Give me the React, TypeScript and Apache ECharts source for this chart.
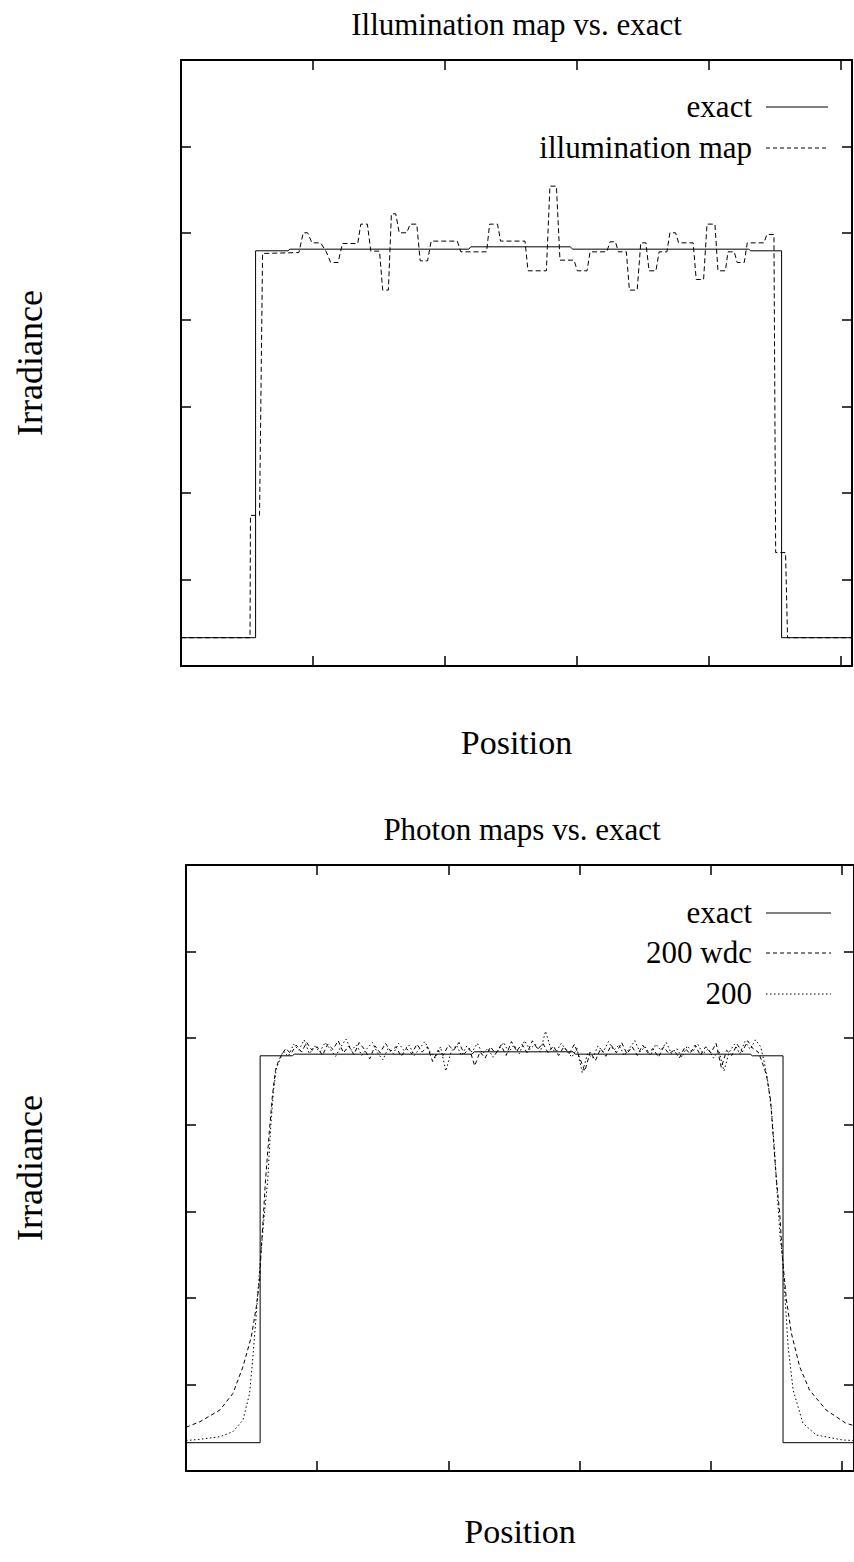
import React, { useEffect, useRef } from "react";
import * as echarts from "echarts";

// ---------- data (x: position units, tick every 100; y: irradiance units, tick every 1) ----------
const exactX = [0, 56.5, 56.5, 81, 82.6, 218, 219.6, 295, 296.6, 430, 431.6, 455, 455, 510];
const exactY = [0.327, 0.327, 4.796, 4.796, 4.815, 4.815, 4.842, 4.842, 4.815, 4.815, 4.796, 4.796, 0.327, 0.327];

const illumX = [0, 52.3, 52.6, 59.5, 61.8,
  89.3, 92.6, 95.9, 99.2, 105.8, 110.1, 113.4, 119.0, 122.3, 133.9,
  136.2, 141.2, 143.8, 150.4, 152.8, 157.1, 159.4, 162.7, 165.3, 171.0,
  173.6, 178.6, 181.2, 186.8, 189.5, 209.3, 212.0, 231.5, 233.8, 239.8,
  242.1, 260.6, 262.9, 276.8, 279.5, 284.4, 287.1, 297.7, 300.3, 307.6,
  309.9, 322.5, 325.1, 329.1, 331.4, 337.4, 339.7, 345.6, 348.3, 352.2,
  354.6, 359.8, 362.2, 368.1, 370.4, 374.7, 377.0, 388.0, 390.3, 395.9,
  398.5, 404.5, 406.8, 412.4, 414.4, 419.1, 421.4, 426.7, 429.0, 441.6,
  443.9, 449.2,
  450.5, 458.0, 459.5, 510];
const illumY = [0.327, 0.327, 1.74, 1.74, 4.765,
  4.776, 5.004, 5.004, 4.888, 4.888, 4.784, 4.661, 4.661, 4.880, 4.880,
  5.104, 5.104, 4.792, 4.792, 4.342, 4.342, 5.223, 5.223, 5.004, 5.004,
  5.104, 5.104, 4.680, 4.680, 4.908, 4.908, 4.784, 4.784, 5.104, 5.104,
  4.908, 4.908, 4.565, 4.565, 5.543, 5.543, 4.688, 4.688, 4.565, 4.565,
  4.784, 4.784, 4.900, 4.900, 4.784, 4.784, 4.342, 4.342, 4.888, 4.888,
  4.565, 4.565, 4.784, 4.784, 5.004, 5.004, 4.888, 4.888, 4.465, 4.465,
  5.104, 5.104, 4.565, 4.565, 4.784, 4.784, 4.661, 4.661, 4.888, 4.888,
  4.985, 4.985,
  1.31, 1.31, 0.327, 0.327];

// 200 wdc : left tail, plateau samples, right tail
const wdcLeftX = [0, 10.6, 25.8, 35.8, 43.4, 49.8, 53.6, 56.1, 57.3, 59.1, 60.6, 63.6, 65.9, 68.2, 71.2];
const wdcLeftY = [0.505, 0.569, 0.704, 0.897, 1.204, 1.551, 1.897, 2.206, 2.552, 2.979, 3.360, 3.938, 4.342, 4.630, 4.769];
const wdcStart = 72;
const wdcStep = 4;
const wdcPlateau = [
  4.78, 4.88, 4.82, 4.92, 4.84, 4.95, 4.86, 4.90, 4.80, 4.93,
  4.87, 4.97, 4.83, 4.91, 4.81, 4.95, 4.87, 4.76, 4.91, 4.83,
  4.94, 4.85, 4.90, 4.79, 4.88, 4.82, 4.93, 4.84, 4.90, 4.73,
  4.86, 4.80, 4.92, 4.86, 4.95, 4.82, 4.88, 4.68, 4.84, 4.77,
  4.90, 4.82, 4.92, 4.80, 4.96, 4.85, 4.93, 4.83, 4.97, 4.87,
  4.94, 4.83, 4.91, 4.80, 4.90, 4.82, 4.93, 4.77, 4.62, 4.84,
  4.74, 4.88, 4.79, 4.92, 4.83, 4.95, 4.82, 4.90, 4.80, 4.92,
  4.83, 4.88, 4.78, 4.90, 4.82, 4.86, 4.77, 4.89, 4.82, 4.92,
  4.80, 4.90, 4.83, 4.94, 4.66, 4.86, 4.80, 4.93, 4.84, 4.97,
  4.88, 4.84];
const wdcRightX = [438.6, 442.4, 445.5, 447.7, 450.0, 452.5, 454.5, 457.6, 461.4, 467.7, 475.2, 487.9, 503.0, 510];
const wdcRightY = [4.746, 4.573, 4.284, 3.822, 3.360, 2.976, 2.475, 1.975, 1.590, 1.204, 0.935, 0.704, 0.551, 0.52];

// 200
const pmLeftX = [0, 10.6, 25.8, 35.8, 43.4, 48.5, 51.0, 53.6, 55.5, 57.3, 59.8, 62.3, 64.4, 66.7, 68.9, 72.0];
const pmLeftY = [0.352, 0.366, 0.396, 0.454, 0.589, 0.897, 1.320, 1.821, 2.206, 2.552, 2.979, 3.360, 3.938, 4.400, 4.654, 4.769];
const pmStart = 74;
const pmStep = 4;
const pmPlateau = [
  4.85, 4.79, 4.93, 4.86, 4.98, 4.82, 4.91, 4.84, 4.95, 4.87,
  4.79, 4.90, 4.99, 4.86, 4.92, 4.80, 4.88, 4.95, 4.83, 4.75,
  4.88, 4.82, 4.94, 4.86, 4.92, 4.80, 4.88, 4.96, 4.84, 4.77,
  4.90, 4.62, 4.84, 4.92, 4.80, 4.91, 4.84, 4.94, 4.82, 4.88,
  4.78, 4.86, 4.95, 4.84, 4.92, 4.82, 4.97, 4.87, 4.93, 4.84,
  5.08, 4.88, 4.84, 4.94, 4.86, 4.78, 4.88, 4.60, 4.82, 4.77,
  4.91, 4.84, 4.96, 4.86, 4.92, 4.80, 4.88, 4.97, 4.84, 4.90,
  4.80, 4.93, 4.86, 4.95, 4.82, 4.88, 4.78, 4.91, 4.84, 4.93,
  4.82, 4.88, 4.77, 4.86, 4.62, 4.84, 4.93, 4.82, 4.96, 4.87,
  4.98, 4.90];
const pmRightX = [441.0, 443.6, 446.2, 448.5, 450.4, 452.7, 454.5, 456.3, 458.9, 462.7, 470.2, 480.3, 500.5, 510];
const pmRightY = [4.70, 4.48, 4.169, 3.707, 3.245, 2.725, 2.475, 2.055, 1.435, 0.935, 0.551, 0.416, 0.358, 0.352];

const titles = ["Illumination map vs. exact", "Photon maps vs. exact"];
const legend1 = ["exact", "illumination map"];
const legend2 = ["exact", "200 wdc", "200"];
const xName = "Position";
const yName = "Irradiance";

// ---------- helpers ----------
const zip = (xs: number[], ys: number[]) => {
  const n = Math.min(xs.length, ys.length);
  const out: number[][] = [];
  for (let i = 0; i < n; i++) out.push([xs[i], ys[i]]);
  return out;
};
const sampled = (start: number, step: number, ys: number[]) => ys.map((y, i) => [start + i * step, y]);

const FONT = "'Liberation Serif', 'Times New Roman', serif";
const FS = 31;

export default function App() {
  const ref = useRef<HTMLDivElement>(null);

  useEffect(() => {
    if (!ref.current) return;
    const chart = echarts.init(ref.current, undefined, { renderer: "svg" });

    const G1 = { left: 181, top: 60, width: 671, height: 606 };
    const G2 = { left: 186, top: 865, width: 672, height: 606 };
    const xMax1 = 671 / 1.32;
    const xMax2 = 672 / 1.32;

    const lineW = 2;
    const tick = { show: true, inside: true, length: 10, lineStyle: { color: "#000", width: 1.5 } };

    const xAx = (gridIndex: number, max: number, pos: string, gap: number | null) => ({
      type: "value",
      gridIndex,
      position: pos,
      min: 0,
      max,
      interval: 100,
      axisLine: { show: true, onZero: false, lineStyle: { color: "#000", width: lineW } },
      axisTick: tick,
      axisLabel: { show: false },
      splitLine: { show: false },
      name: gap !== null ? xName : "",
      nameLocation: "middle",
      nameGap: gap ?? 0,
      nameTextStyle: { fontSize: 34, fontFamily: FONT, color: "#000" },
    });
    const yAx = (gridIndex: number, pos: string, gap: number | null) => ({
      type: "value",
      gridIndex,
      position: pos,
      min: 0,
      max: 7,
      interval: 1,
      axisLine: { show: true, onZero: false, lineStyle: { color: "#000", width: lineW } },
      axisTick: tick,
      axisLabel: { show: false },
      splitLine: { show: false },
      name: gap !== null ? yName : "",
      nameLocation: "middle",
      nameRotate: 90,
      nameGap: gap ?? 0,
      nameTextStyle: { fontSize: 36, fontFamily: FONT, color: "#000" },
    });

    const line = (name: string, data: number[][], xi: number, yi: number, dash: any) => ({
      name,
      type: "line",
      xAxisIndex: xi,
      yAxisIndex: yi,
      data,
      showSymbol: false,
      symbol: "none",
      clip: true,
      lineStyle: { color: "#000", width: 1, type: dash },
      itemStyle: { color: "#000" },
    });

    const wdcData = [...zip(wdcLeftX, wdcLeftY), ...sampled(wdcStart, wdcStep, wdcPlateau), ...zip(wdcRightX, wdcRightY)];
    const pmData = [...zip(pmLeftX, pmLeftY), ...sampled(pmStart, pmStep, pmPlateau), ...zip(pmRightX, pmRightY)];

    const legendItem = (label: string, y: number, dash: number[] | null, x2: number) => [
      {
        type: "text",
        x: 752,
        y,
        style: {
          text: label,
          fill: "#000",
          fontSize: FS,
          fontFamily: FONT,
          align: "right",
          textAlign: "right",
          verticalAlign: "middle",
          textVerticalAlign: "middle",
        },
      },
      {
        type: "line",
        shape: { x1: 766, y1: y + 1, x2, y2: y + 1 },
        style: { stroke: "#000", lineWidth: 1, lineDash: dash || undefined },
      },
    ];

    chart.setOption({
      animation: false,
      backgroundColor: "#fff",
      title: [
        {
          text: titles[0],
          left: G1.left + G1.width / 2,
          top: 9,
          textAlign: "center",
          padding: 0,
          textStyle: { fontSize: FS, fontWeight: "normal", fontFamily: FONT, color: "#000" },
        },
        {
          text: titles[1],
          left: G2.left + G2.width / 2,
          top: 814,
          textAlign: "center",
          padding: 0,
          textStyle: { fontSize: FS, fontWeight: "normal", fontFamily: FONT, color: "#000" },
        },
      ],
      grid: [G1, G2],
      xAxis: [xAx(0, xMax1, "bottom", 59), xAx(0, xMax1, "top", null), xAx(1, xMax2, "bottom", 43), xAx(1, xMax2, "top", null)],
      yAxis: [yAx(0, "left", 133), yAx(0, "right", null), yAx(1, "left", 138), yAx(1, "right", null)],
      series: [
        line(legend1[0], zip(exactX, exactY), 0, 0, "solid"),
        line(legend1[1], zip(illumX, illumY), 0, 0, [5, 3]),
        line(legend2[0], zip(exactX, exactY), 2, 2, "solid"),
        line(legend2[1], wdcData, 2, 2, [4, 3]),
        line(legend2[2], pmData, 2, 2, [1.5, 2.5]),
      ],
      graphic: [
        ...legendItem(legend1[0], 106, null, 828),
        ...legendItem(legend1[1], 147, [4, 3], 828),
        ...legendItem(legend2[0], 912, null, 831),
        ...legendItem(legend2[1], 952, [4, 3], 831),
        ...legendItem(legend2[2], 993, [1.5, 2.5], 831),
      ],
    });

    return () => chart.dispose();
  }, []);

  return (
    <div
      ref={ref}
      style={{ position: "absolute", left: 0, top: 0, width: 854, height: 1562, background: "#fff" }}
    />
  );
}
